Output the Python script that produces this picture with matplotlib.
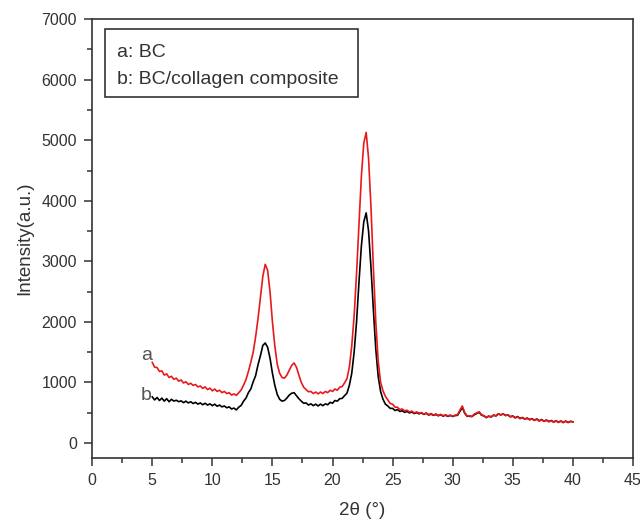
import numpy as np
import matplotlib.pyplot as plt
from matplotlib.patches import Rectangle
from matplotlib.ticker import MultipleLocator

plt.rcParams['font.family'] = ['Liberation Sans', 'DejaVu Sans']

# --- XRD data (2theta step 0.2 deg, 5..40) ---
two_theta = np.round(np.arange(5.0, 40.0 + 1e-6, 0.2), 1)

# a: BC (red)
intensity_bc = [
    1330, 1250, 1245, 1180, 1190, 1120, 1140, 1080, 1100, 1050,   # 5.0
    1070, 1020, 1040, 990, 1010, 965, 985, 950, 965, 925,         # 7.0
    940, 900, 925, 880, 905, 860, 890, 850, 870, 830,             # 9.0
    850, 815, 830, 790, 810, 785, 830, 875, 955, 1045,            # 11.0
    1180, 1330, 1500, 1750, 2050, 2400, 2750, 2950, 2850, 2500,   # 13.0
    2000, 1600, 1300, 1150, 1080, 1070, 1120, 1200, 1280, 1320,   # 15.0
    1250, 1120, 1000, 920, 880, 845, 850, 815, 840, 810,          # 17.0
    840, 815, 850, 830, 870, 850, 890, 870, 920, 930,             # 19.0
    990, 1060, 1250, 1600, 2100, 2800, 3600, 4400, 4950, 5130,    # 21.0
    4700, 3900, 2900, 2000, 1350, 1000, 860, 770, 710, 650,       # 23.0
    640, 590, 590, 550, 560, 530, 540, 510, 525, 495,             # 25.0
    512, 490, 500, 475, 495, 465, 485, 460, 478, 452,             # 27.0
    472, 448, 465, 445, 460, 440, 458, 465, 540, 610,             # 29.0
    500, 445, 445, 440, 475, 495, 515, 465, 450, 420,             # 31.0
    445, 430, 460, 448, 480, 465, 478, 455, 460, 430,             # 33.0
    440, 412, 430, 400, 415, 390, 405, 380, 395, 370,             # 35.0
    390, 362, 380, 355, 372, 350, 365, 342, 362, 338,             # 37.0
    360, 335, 358, 335, 355, 345,                                 # 39.0
]

# b: BC/collagen composite (black)
intensity_comp = [
    760, 710, 750, 700, 740, 690, 730, 680, 720, 690,             # 5.0
    705, 680, 695, 665, 690, 660, 680, 650, 670, 640,             # 7.0
    660, 630, 655, 625, 645, 615, 640, 605, 625, 595,             # 9.0
    610, 580, 595, 560, 575, 545, 590, 620, 690, 740,             # 11.0
    830, 890, 1010, 1110, 1290, 1440, 1610, 1650, 1580, 1400,     # 13.0
    1150, 950, 800, 720, 690, 700, 740, 790, 820, 830,            # 15.0
    780, 730, 690, 655, 660, 625, 645, 615, 640, 610,             # 17.0
    640, 615, 645, 630, 670, 655, 700, 690, 730, 735,             # 19.0
    780, 820, 950, 1150, 1500, 2000, 2650, 3250, 3650, 3800,      # 21.0
    3500, 2900, 2200, 1550, 1100, 850, 720, 640, 610, 570,        # 23.0
    570, 535, 550, 520, 530, 505, 520, 495, 510, 485,             # 25.0
    500, 480, 495, 470, 490, 460, 475, 455, 470, 448,             # 27.0
    465, 442, 458, 438, 455, 436, 452, 455, 520, 585,             # 29.0
    490, 440, 440, 435, 465, 485, 505, 458, 445, 418,             # 31.0
    440, 428, 458, 445, 478, 462, 478, 452, 462, 432,             # 33.0
    445, 415, 435, 405, 420, 395, 410, 385, 400, 375,             # 35.0
    395, 365, 385, 358, 378, 352, 370, 345, 366, 340,             # 37.0
    362, 338, 360, 338, 356, 348,                                 # 39.0
]

legend_lines = ["a: BC", "b: BC/collagen composite"]

fig = plt.figure(figsize=(6.4, 5.19), dpi=100)
ax = fig.add_axes([0.144, 0.1175, 0.845, 0.8455])

ax.plot(two_theta, intensity_comp, color='black', lw=1.2)
ax.plot(two_theta, intensity_bc, color='#e8191c', lw=1.2)

ax.text(4.95, 1450, "a", fontsize=14, color='#555555', ha='right', va='center')
ax.text(4.95, 790, "b", fontsize=14, color='#555555', ha='right', va='center')

ax.set_xlim(0, 45)
ax.set_ylim(-250, 7000)
ax.xaxis.set_major_locator(MultipleLocator(5))
ax.xaxis.set_minor_locator(MultipleLocator(2.5))
ax.yaxis.set_major_locator(MultipleLocator(1000))
ax.yaxis.set_minor_locator(MultipleLocator(500))
ax.tick_params(which='major', direction='out', length=6, width=1.1, labelsize=11.5,
               colors='#333333', top=False, right=False, pad=5)
ax.tick_params(which='minor', direction='out', length=3.5, width=1.1,
               colors='#333333', top=False, right=False)
for sp in ax.spines.values():
    sp.set_color('#333333')
    sp.set_linewidth(1.2)

ax.set_xlabel("2θ (°)", fontsize=13.5, color='#333333', labelpad=10)
ax.set_ylabel("Intensity(a.u.)", fontsize=13.5, color='#333333', labelpad=6)

# legend box with the two sample names
ax.add_patch(Rectangle((0.024, 0.822), 0.468, 0.155, transform=ax.transAxes,
                       fc='white', ec='#333333', lw=1.2, zorder=3))
ax.text(0.046, 0.925, legend_lines[0], transform=ax.transAxes, fontsize=14,
        color='#333333', ha='left', va='center', zorder=4)
ax.text(0.046, 0.863, legend_lines[1], transform=ax.transAxes, fontsize=14,
        color='#333333', ha='left', va='center', zorder=4)

fig.savefig("out.png", dpi=100)
